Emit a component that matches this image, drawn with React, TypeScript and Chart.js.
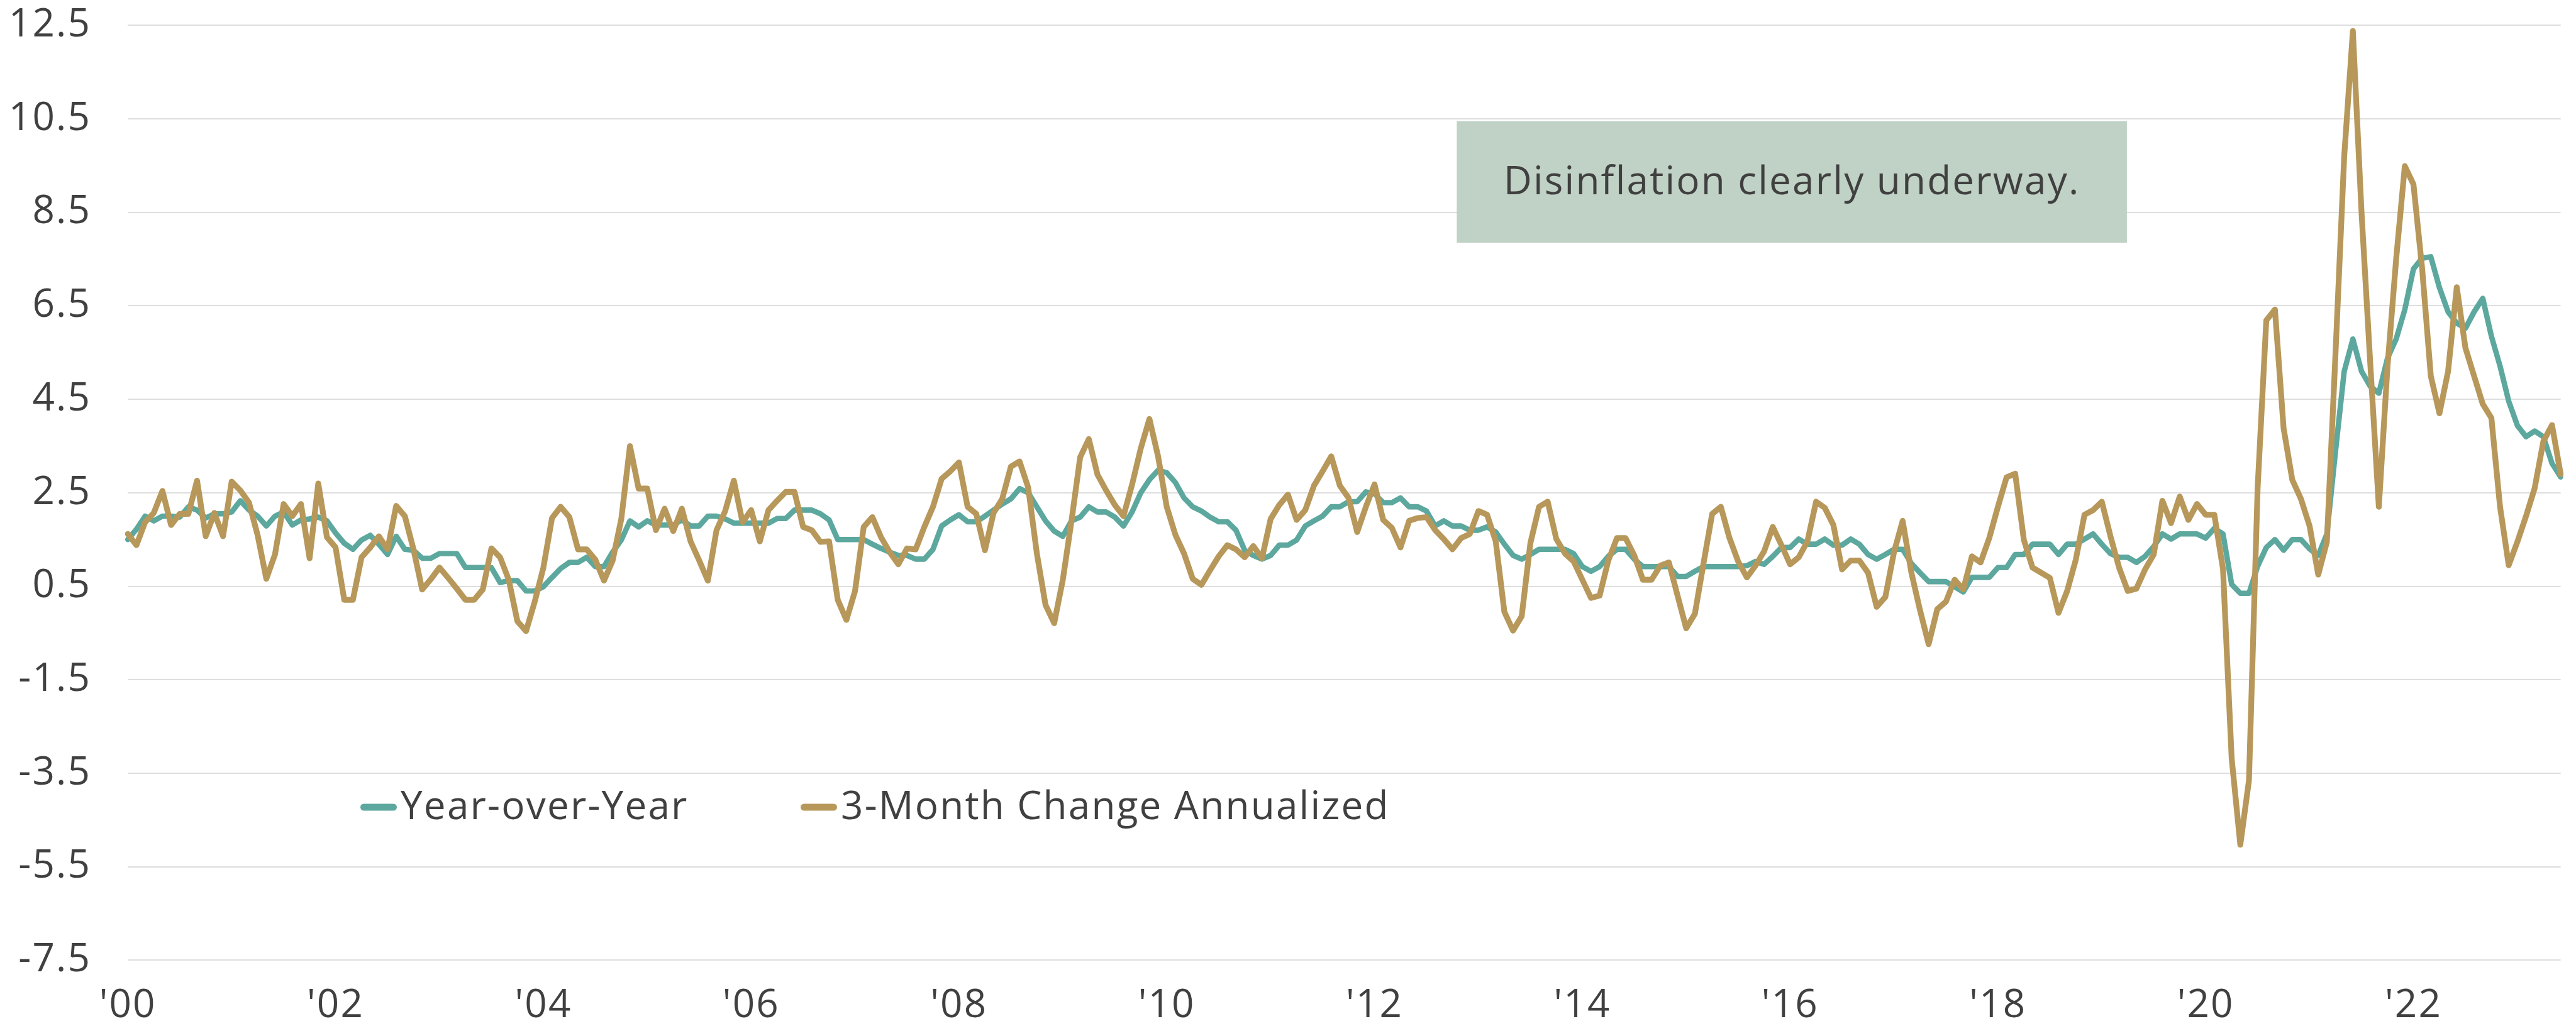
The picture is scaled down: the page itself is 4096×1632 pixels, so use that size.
import React, { useEffect, useRef } from 'react';
import { Chart, registerables } from 'chart.js';

Chart.register(...registerables);

// ---------- data ----------
const FIRST_YEAR = 2000;
const LAST_YEAR = 2023;
const LAST_MONTH = 6; // June 2023

const months: string[] = [];
for (let y = FIRST_YEAR; y <= LAST_YEAR; y++) {
  for (let m = 1; m <= 12; m++) {
    if (y === LAST_YEAR && m > LAST_MONTH) break;
    months.push(`${y}-${String(m).padStart(2, '0')}`);
  }
}

const xTickLabels = ["'00", "'02", "'04", "'06", "'08", "'10", "'12", "'14", "'16", "'18", "'20", "'22"];
const yTickMin = -7.5;
const yTickMax = 12.5;
const yTickStep = 2;

const seriesNames = ['Year-over-Year', '3-Month Change Annualized'];

const yoy2000to2004 = [
  1.5, 1.72, 2.0, 1.9, 2.0, 2.0, 1.98, 2.2, 2.13, 1.96, 2.05, 2.05,
  2.09, 2.33, 2.13, 2.0, 1.79, 2.0, 2.09, 1.81, 1.92, 1.94, 1.98, 1.9,
  1.64, 1.42, 1.29, 1.49, 1.59, 1.4, 1.18, 1.57, 1.29, 1.27, 1.1, 1.1,
  1.2, 1.2, 1.2, 0.9, 0.9, 0.9, 0.9, 0.58, 0.62, 0.62, 0.4, 0.4,
  0.49, 0.69, 0.88, 1.01, 1.01, 1.12, 0.92, 0.92, 1.23, 1.49, 1.9, 1.77,
];
const yoy2005to2009 = [
  1.9, 1.81, 1.81, 1.81, 1.92, 1.79, 1.79, 2.0, 2.0, 1.94, 1.85, 1.85,
  1.85, 1.85, 1.85, 1.95, 1.95, 2.13, 2.13, 2.13, 2.05, 1.92, 1.5, 1.5,
  1.5, 1.5, 1.4, 1.31, 1.23, 1.16, 1.16, 1.08, 1.08, 1.29, 1.79, 1.92,
  2.03, 1.88, 1.88, 2.0, 2.13, 2.26, 2.37, 2.59, 2.5, 2.2, 1.9, 1.68,
  1.57, 1.9, 1.98, 2.2, 2.09, 2.09, 1.98, 1.79, 2.09, 2.5, 2.78, 2.98,
];
const yoy2010to2014 = [
  2.93, 2.72, 2.39, 2.2, 2.11, 1.98, 1.88, 1.88, 1.7, 1.27, 1.16, 1.08,
  1.16, 1.38, 1.38, 1.49, 1.79, 1.9, 2.0, 2.2, 2.2, 2.31, 2.31, 2.52,
  2.48, 2.29, 2.29, 2.39, 2.2, 2.2, 2.11, 1.79, 1.9, 1.79, 1.79, 1.7,
  1.7, 1.77, 1.66, 1.4, 1.16, 1.08, 1.18, 1.29, 1.29, 1.29, 1.29, 1.2,
  0.92, 0.82, 0.92, 1.14, 1.29, 1.29, 1.08, 0.92, 0.92, 0.92, 0.92, 0.71,
];
const yoy2015to2019 = [
  0.71, 0.82, 0.92, 0.92, 0.92, 0.92, 0.92, 0.94, 1.03, 0.97, 1.14, 1.33,
  1.33, 1.51, 1.4, 1.4, 1.51, 1.38, 1.38, 1.51, 1.4, 1.18, 1.08, 1.18,
  1.29, 1.29, 0.99, 0.79, 0.6, 0.6, 0.6, 0.49, 0.38, 0.69, 0.69, 0.69,
  0.9, 0.9, 1.18, 1.18, 1.4, 1.4, 1.4, 1.18, 1.4, 1.4, 1.51, 1.62,
  1.4, 1.2, 1.12, 1.12, 1.01, 1.14, 1.35, 1.62, 1.51, 1.62, 1.62, 1.62,
];
const yoy2020to2023 = [
  1.53, 1.74, 1.62, 0.54, 0.35, 0.35, 0.93, 1.33, 1.5, 1.27, 1.5, 1.5,
  1.3, 1.16, 1.62, 3.4, 5.1, 5.79, 5.1, 4.78, 4.63, 5.38, 5.79, 6.42,
  7.29, 7.52, 7.55, 6.89, 6.37, 6.13, 6.02, 6.37, 6.66, 5.85, 5.21, 4.46,
  3.94, 3.7, 3.82, 3.7, 3.13, 2.84,
];

const threeMo2000to2004 = [
  1.62, 1.38, 1.87, 2.07, 2.54, 1.81, 2.05, 2.05, 2.76, 1.57, 2.07, 1.57,
  2.74, 2.55, 2.29, 1.59, 0.66, 1.18, 2.26, 2.0, 2.26, 1.1, 2.7, 1.55,
  1.33, 0.21, 0.21, 1.12, 1.33, 1.57, 1.29, 2.22, 2.0, 1.29, 0.43, 0.65,
  0.9, 0.68, 0.45, 0.21, 0.21, 0.43, 1.31, 1.12, 0.64, -0.25, -0.46, 0.17,
  0.9, 1.96, 2.2, 1.98, 1.29, 1.29, 1.07, 0.62, 1.05, 1.94, 3.5, 2.59,
];
const threeMo2005to2009 = [
  2.59, 1.7, 2.16, 1.68, 2.16, 1.46, 1.05, 0.62, 1.7, 2.11, 2.76, 1.87,
  2.13, 1.46, 2.13, 2.33, 2.52, 2.52, 1.77, 1.7, 1.45, 1.46, 0.21, -0.22,
  0.4, 1.77, 1.98, 1.55, 1.23, 0.97, 1.31, 1.29, 1.77, 2.2, 2.8, 2.96,
  3.15, 2.2, 2.05, 1.27, 2.07, 2.37, 3.06, 3.17, 2.61, 1.2, 0.1, -0.29,
  0.64, 1.9, 3.26, 3.65, 2.89, 2.55, 2.24, 2.0, 2.68, 3.45, 4.08, 3.28,
];
const threeMo2010to2014 = [
  2.2, 1.6, 1.2, 0.66, 0.53, 0.84, 1.14, 1.38, 1.29, 1.12, 1.36, 1.1,
  1.94, 2.24, 2.46, 1.92, 2.13, 2.65, 2.96, 3.28, 2.65, 2.39, 1.66, 2.2,
  2.68, 1.92, 1.75, 1.33, 1.9, 1.96, 1.98, 1.7, 1.51, 1.29, 1.53, 1.62,
  2.11, 2.03, 1.46, -0.05, -0.45, -0.14, 1.42, 2.2, 2.31, 1.51, 1.2, 1.03,
  0.64, 0.25, 0.3, 1.05, 1.53, 1.53, 1.16, 0.64, 0.64, 0.94, 1.01, 0.3,
];
const threeMo2015to2019 = [
  -0.4, -0.09, 0.99, 2.05, 2.2, 1.53, 1.03, 0.69, 0.94, 1.25, 1.77, 1.38,
  0.97, 1.12, 1.46, 2.31, 2.18, 1.81, 0.86, 1.05, 1.05, 0.79, 0.06, 0.27,
  1.23, 1.9, 0.8, -0.01, -0.74, 0.01, 0.17, 0.64, 0.43, 1.14, 1.01, 1.53,
  2.2, 2.83, 2.91, 1.49, 0.9, 0.79, 0.68, -0.07, 0.4, 1.07, 2.03, 2.13,
  2.31, 1.57, 0.9, 0.4, 0.45, 0.86, 1.18, 2.33, 1.85, 2.42, 1.92, 2.26,
];
const threeMo2020to2023 = [
  2.03, 2.03, 0.87, -3.18, -5.03, -3.65, 2.6, 6.19, 6.42, 3.88, 2.78, 2.37,
  1.79, 0.75, 1.45, 5.5, 9.7, 12.38, 8.5, 5.3, 2.2, 5.2, 7.5, 9.49,
  9.1, 7.3, 5.0, 4.2, 5.1, 6.9, 5.6, 5.0, 4.4, 4.1, 2.2, 0.95,
  1.45, 2.0, 2.6, 3.6, 3.95, 2.9,
];

const yearOverYear = [...yoy2000to2004, ...yoy2005to2009, ...yoy2010to2014, ...yoy2015to2019, ...yoy2020to2023];
const threeMonthAnnualized = [
  ...threeMo2000to2004, ...threeMo2005to2009, ...threeMo2010to2014, ...threeMo2015to2019, ...threeMo2020to2023,
];

const noteText = 'Disinflation clearly underway.';
// annotation box in data units: [from month index, to month index], [top value, bottom value]
const noteBoxX = [153.5, 230.9];
const noteBoxY = [10.45, 7.85];

// ---------- style ----------
const W = 4096;
const H = 1632;
const FONT = '"Open Sans", Lato, sans-serif';
const FONT_SIZE = 62;
const LETTER_SPACING = '2.2px';
const TEXT = '#404040';
const TEAL = '#5DA89E';
const GOLD = '#B7985A';
const BOX = '#C0D1C5';

const letterSpacingPlugin = {
  id: 'letterSpacing',
  beforeDraw(chart: any) {
    chart.ctx.letterSpacing = LETTER_SPACING;
  },
};

const noteBoxPlugin = {
  id: 'noteBox',
  beforeDatasetsDraw(chart: any) {
    const { ctx } = chart;
    const xs = chart.scales.x;
    const ys = chart.scales.y;
    const x0 = xs.getPixelForValue(noteBoxX[0]);
    const x1 = xs.getPixelForValue(noteBoxX[1]);
    const y0 = ys.getPixelForValue(noteBoxY[0]);
    const y1 = ys.getPixelForValue(noteBoxY[1]);
    ctx.save();
    ctx.fillStyle = BOX;
    ctx.fillRect(x0, y0, x1 - x0, y1 - y0);
    ctx.fillStyle = TEXT;
    ctx.font = `${FONT_SIZE}px ${FONT}`;
    ctx.letterSpacing = LETTER_SPACING;
    ctx.textAlign = 'center';
    ctx.textBaseline = 'middle';
    ctx.fillText(noteText, (x0 + x1) / 2, (y0 + y1) / 2 + 2);
    ctx.restore();
  },
};

const legendPlugin = {
  id: 'inlineLegend',
  afterDraw(chart: any) {
    const { ctx } = chart;
    const itemX = [573, 1273];
    const yMid = 1284;
    const markW = 58;
    const markT = 11;
    ctx.save();
    ctx.font = `${FONT_SIZE}px ${FONT}`;
    ctx.letterSpacing = LETTER_SPACING;
    ctx.textAlign = 'left';
    ctx.textBaseline = 'middle';
    chart.data.datasets.forEach((ds: any) => {
      const x = itemX[ds.legendPos];
      ctx.strokeStyle = ds.borderColor;
      ctx.lineWidth = markT;
      ctx.lineCap = 'round';
      ctx.beginPath();
      ctx.moveTo(x + markT / 2, yMid);
      ctx.lineTo(x + markW - markT / 2, yMid);
      ctx.stroke();
      ctx.fillStyle = TEXT;
      ctx.fillText(ds.label, x + markW + 6, yMid + 1);
    });
    ctx.restore();
  },
};

export default function App() {
  const ref = useRef<HTMLCanvasElement | null>(null);

  useEffect(() => {
    let chart: Chart | null = null;
    let cancelled = false;
    const make = () => {
      if (cancelled || !ref.current) return;
      chart = new Chart(ref.current, {
        type: 'line',
        data: {
          labels: months,
          datasets: [
            {
              label: seriesNames[1],
              data: threeMonthAnnualized,
              borderColor: GOLD,
              backgroundColor: GOLD,
              borderWidth: 9.2,
              pointRadius: 0,
              tension: 0,
              borderJoinStyle: 'round',
              borderCapStyle: 'round',
              order: 0,
              legendPos: 1,
            } as any,
            {
              label: seriesNames[0],
              data: yearOverYear,
              borderColor: TEAL,
              backgroundColor: TEAL,
              borderWidth: 8.6,
              pointRadius: 0,
              tension: 0,
              borderJoinStyle: 'round',
              borderCapStyle: 'round',
              order: 1,
              legendPos: 0,
            } as any,
          ],
        },
        options: {
          responsive: false,
          animation: false,
          devicePixelRatio: 1,
          layout: { padding: { top: 40.4, right: 24.4, bottom: 0, left: 0 } },
          plugins: { legend: { display: false }, tooltip: { enabled: false } },
          scales: {
            x: {
              type: 'category',
              offset: false,
              grid: { display: false, drawTicks: false },
              border: { display: false },
              afterFit: (s: any) => {
                s.height = 104.7;
                s.paddingLeft = 0;
                s.paddingRight = 0;
              },
              ticks: {
                autoSkip: false,
                maxRotation: 0,
                minRotation: 0,
                padding: 36,
                color: TEXT,
                font: { family: FONT, size: FONT_SIZE },
                callback: (_v: any, idx: number) => (idx % 24 === 0 ? xTickLabels[idx / 24] : null),
              },
            },
            y: {
              type: 'linear',
              min: yTickMin,
              max: yTickMax,
              grid: { color: '#DEDEDE', lineWidth: 2, drawTicks: false },
              border: { display: false },
              afterFit: (s: any) => {
                s.width = 203.2;
                s.paddingTop = 0;
                s.paddingBottom = 0;
              },
              ticks: {
                stepSize: yTickStep,
                padding: 58,
                color: TEXT,
                font: { family: FONT, size: FONT_SIZE },
                callback: (v: any) => Number(v).toFixed(1),
              },
            },
          },
        },
        plugins: [letterSpacingPlugin, noteBoxPlugin, legendPlugin],
      } as any);
    };
    const fontsReady = (document as any).fonts?.load
      ? (document as any).fonts.load(`${FONT_SIZE}px "Open Sans"`).catch(() => null)
      : Promise.resolve(null);
    fontsReady.then(make);
    return () => {
      cancelled = true;
      if (chart) chart.destroy();
    };
  }, []);

  return (
    <div style={{ position: 'fixed', left: 0, top: 0, width: W, height: H, background: '#fff' }}>
      <canvas ref={ref} width={W} height={H} style={{ display: 'block', width: W, height: H }} />
    </div>
  );
}
